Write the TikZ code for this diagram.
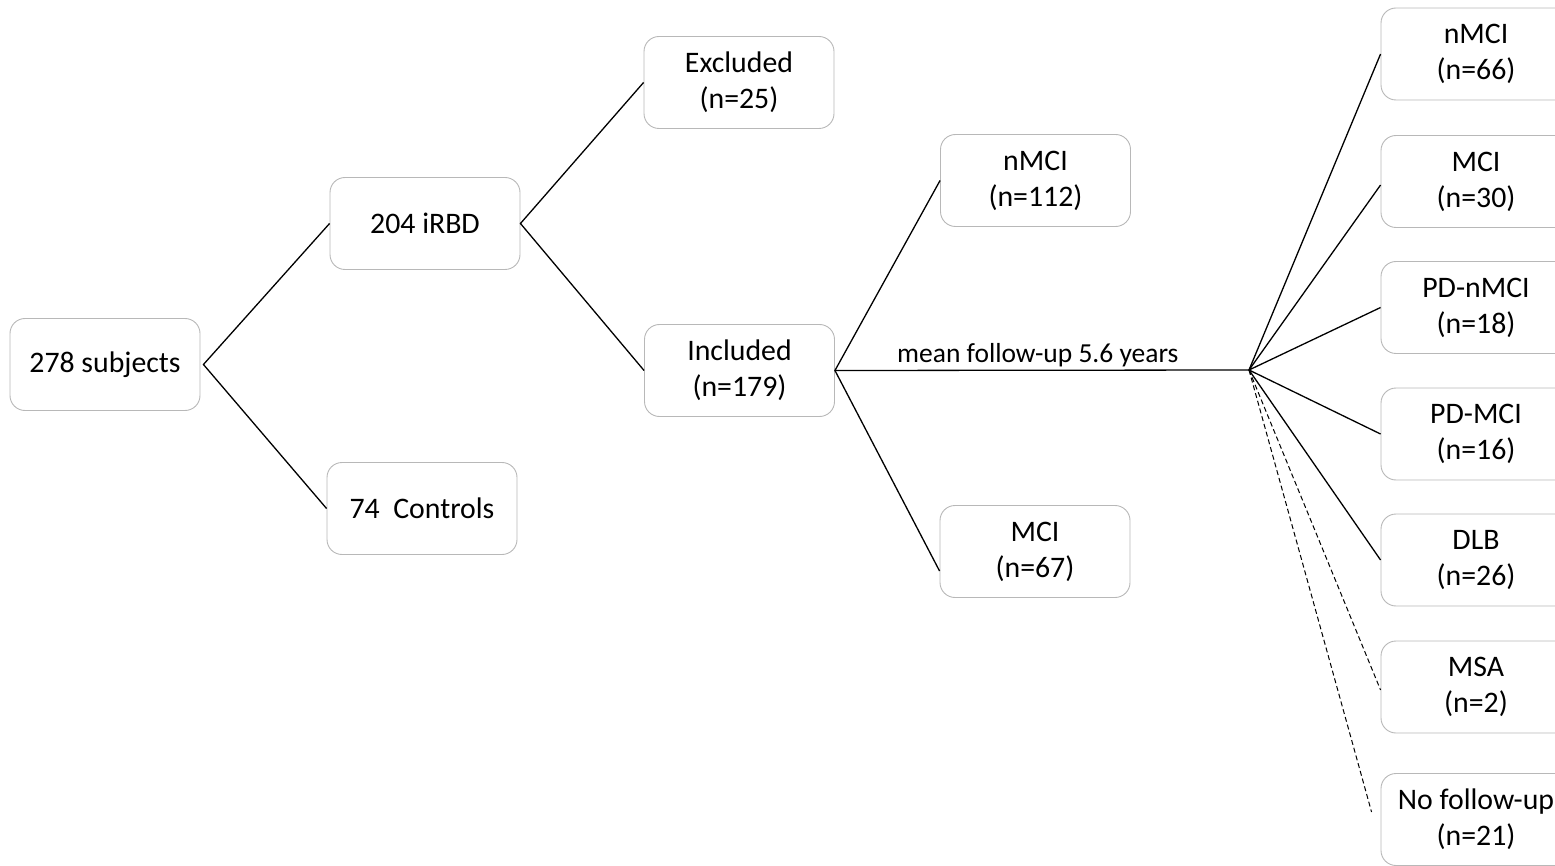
\documentclass[tikz,border=0pt]{standalone}
\usepackage{fontspec}
\setmainfont{Carlito}
\begin{document}
\begin{tikzpicture}[x=1pt,y=-1pt,
  box/.style={draw=black!28, line width=0.9pt, fill=white, rounded corners=15pt,
    minimum width=190pt, minimum height=92pt, align=center, inner sep=2pt,
    font=\fontsize{29.8}{36}\selectfont},
  link/.style={draw=black, line width=1.3pt},
  maybe/.style={draw=black, line width=1pt, dash pattern=on 5pt off 3pt}]
\clip (0,0) rectangle (1555,866);

% first split: whole cohort
\node[box] (subj) at (105,364.5) {278 subjects};
\node[box] (irbd) at (425,223.5) {204 iRBD};
\node[box] (ctrl) at (422,508.5) {74~~Controls};

% second split: iRBD patients
\node[box] (excl) at (739,82.5) {Excluded\\(n=25)};
\node[box] (incl) at (739.5,370.5) {Included\\(n=179)};

% baseline cognitive status
\node[box] (bnmci) at (1035.5,180.5) {nMCI\\(n=112)};
\node[box] (bmci) at (1035,551.5) {MCI\\(n=67)};

% outcome at follow-up
\node[box] (fnmci) at (1476,54) {nMCI\\(n=66)};
\node[box] (fmci) at (1476,181.5) {MCI\\(n=30)};
\node[box] (fpdn) at (1476,307.5) {PD-nMCI\\(n=18)};
\node[box] (fpdm) at (1476,434) {PD-MCI\\(n=16)};
\node[box] (fdlb) at (1476,560) {DLB\\(n=26)};
\node[box] (fmsa) at (1476,687) {MSA\\(n=2)};
\node[box] (fnone) at (1476,819.5) {No follow-up\\(n=21)};

\coordinate (fan) at (1249,370);

% connectors
\draw[link] (irbd.west) -- ([xshift=3pt]subj.east) -- (ctrl.west);
\draw[link] (excl.west) -- (irbd.east) -- (incl.west);
\draw[link] (bnmci.west) -- (incl.east) -- ([yshift=-19.5pt]bmci.west);
\draw[link] (incl.east) -- node[anchor=base, yshift=7.5pt, inner sep=0pt,
  font=\fontsize{27.5}{32}\selectfont, pos=0.49] (fu) {mean follow-up 5.6 years} (fan);

\draw[link] (fan) -- (fnmci.west);
\draw[link] (fan) -- ([yshift=-3.5pt]fmci.west);
\draw[link] (fan) -- (fpdn.west);
\draw[link] (fan) -- (fpdm.west);
\draw[link] (fan) -- (fdlb.west);
\draw[maybe] (fan) -- ([yshift=-3pt]fmsa.west);
\draw[maybe] (fan) -- ([xshift=-9pt,yshift=7.5pt]fnone.west);
\end{tikzpicture}
\end{document}
